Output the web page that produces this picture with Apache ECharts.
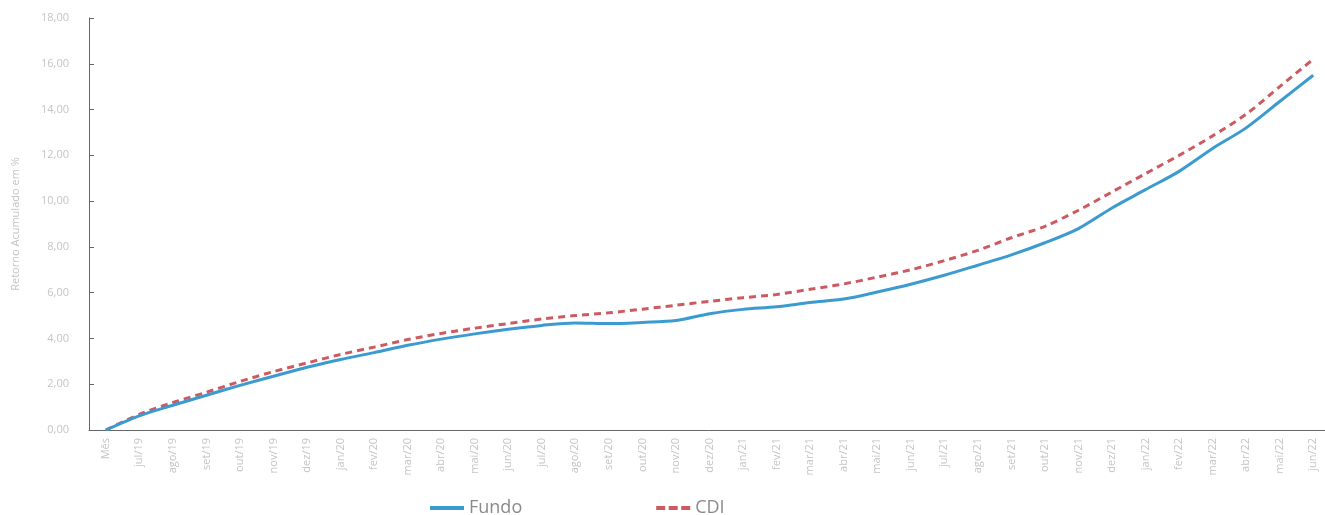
<!DOCTYPE html>
<html>
<head>
<meta charset="utf-8">
<script src="https://cdn.jsdelivr.net/npm/echarts@6/dist/echarts.min.js"></script>
<style>
  html, body { margin: 0; padding: 0; background: #fff; overflow: hidden; }
  #chart { width: 1335px; height: 515px; }
</style>
</head>
<body>
<div id="chart"></div>
<script>
// months (first tick is the start point)
const months = ['Mês', 'jul/19', 'ago/19', 'set/19', 'out/19', 'nov/19', 'dez/19',
  'jan/20', 'fev/20', 'mar/20', 'abr/20', 'mai/20', 'jun/20', 'jul/20', 'ago/20',
  'set/20', 'out/20', 'nov/20', 'dez/20', 'jan/21', 'fev/21', 'mar/21', 'abr/21',
  'mai/21', 'jun/21', 'jul/21', 'ago/21', 'set/21', 'out/21', 'nov/21', 'dez/21',
  'jan/22', 'fev/22', 'mar/22', 'abr/22', 'mai/22', 'jun/22']

// accumulated return in %
const fundo = [0, 0.62, 1.08, 1.52, 1.95, 2.35, 2.74, 3.08, 3.38, 3.7, 3.97, 4.2,
  4.4, 4.57, 4.68, 4.65, 4.7, 4.78, 5.08, 5.27, 5.38, 5.57, 5.72, 6.03, 6.37,
  6.76, 7.2, 7.65, 8.18, 8.8, 9.7, 10.5, 11.3, 12.3, 13.2, 14.35, 15.5]
const cdi = [0, 0.68, 1.2, 1.65, 2.12, 2.55, 2.93, 3.3, 3.62, 3.95, 4.22, 4.45,
  4.65, 4.85, 5.0, 5.12, 5.28, 5.45, 5.62, 5.78, 5.92, 6.15, 6.38, 6.68, 7.0,
  7.4, 7.85, 8.4, 8.9, 9.6, 10.4, 11.2, 12.0, 12.85, 13.8, 15.0, 16.2]

const chart = echarts.init(document.getElementById('chart'))

const labelColor = '#c4c4c4'
const axisColor = '#666'
const blue = '#3b9bd1'
const red = '#cc5a60'

chart.setOption({
  animation: false,
  textStyle: { fontFamily: 'Open Sans' },
  // grid runs a little past the 1325px window, like the cropped original
  grid: {
    left: 89,
    top: 18,
    width: 1241,
    bottom: 85,
    containLabel: false,
  },
  legend: {
    left: 425,
    top: 494,
    itemWidth: 34,
    itemHeight: 4,
    itemGap: 134,
    textStyle: { color: '#8a8a8a', fontSize: 18 },
    data: [
      { name: 'Fundo', icon: 'rect', itemStyle: { color: blue } },
      { name: 'CDI', icon: 'path://M0,0H9V4H0Z M12.5,0H21.5V4H12.5Z M25,0H34V4H25Z', itemStyle: { color: red } },
    ],
  },
  xAxis: {
    type: 'category',
    data: months,
    boundaryGap: true,
    axisLine: { lineStyle: { color: axisColor, width: 1 } },
    axisTick: { inside: true, alignWithLabel: true, length: 5, lineStyle: { color: axisColor } },
    axisLabel: {
      rotate: 90,
      interval: 0,
      color: labelColor,
      fontSize: 11,
      margin: 8,
    },
  },
  yAxis: {
    type: 'value',
    min: 0,
    max: 18,
    interval: 2,
    name: 'Retorno Acumulado em %',
    nameLocation: 'middle',
    nameGap: 68,
    nameTextStyle: { color: labelColor, fontSize: 11 },
    splitLine: { show: false },
    axisLine: { show: true, lineStyle: { color: axisColor, width: 1 } },
    axisTick: { show: true, inside: true, length: 5, lineStyle: { color: axisColor } },
    axisLabel: {
      color: labelColor,
      fontSize: 11,
      margin: 20,
      formatter: v => v.toFixed(2).replace('.', ','),
    },
  },
  series: [
    {
      name: 'Fundo',
      type: 'line',
      data: fundo,
      showSymbol: false,
      symbol: 'none',
      smooth: 0.3,
      z: 3,
      lineStyle: { color: blue, width: 3 },
      itemStyle: { color: blue },
    },
    {
      name: 'CDI',
      type: 'line',
      data: cdi,
      showSymbol: false,
      symbol: 'none',
      smooth: 0.3,
      z: 2,
      lineStyle: { color: red, width: 3, type: [7, 5] },
      itemStyle: { color: red },
    },
  ],
})
</script>
</body>
</html>
